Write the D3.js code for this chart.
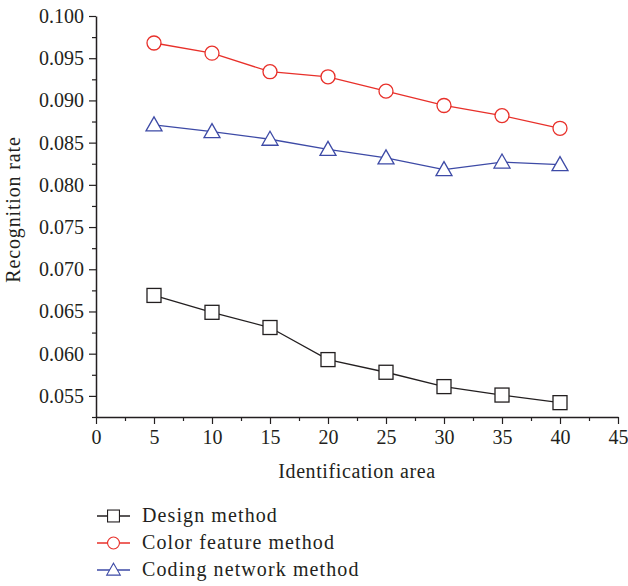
<!DOCTYPE html>
<html>
<head>
<meta charset="utf-8">
<script src="https://cdn.jsdelivr.net/npm/d3@7"></script>
<style>
  body { margin: 0; background: #fff; }
  text { font-family: "Liberation Serif", "DejaVu Serif", serif; fill: #231f20; }
</style>
</head>
<body>
<div id="chart"></div>
<script>
// data
var areas = [5, 10, 15, 20, 25, 30, 35, 40];
var designMethod = [0.0669, 0.0649, 0.0631, 0.0593, 0.0578, 0.0561, 0.0551, 0.0542];
var colorFeature = [0.0968, 0.0956, 0.0934, 0.0928, 0.0911, 0.0894, 0.0882, 0.0867];
var codingNetwork = [0.0871, 0.0863, 0.0854, 0.0842, 0.0832, 0.0818, 0.0827, 0.0824];
var seriesNames = ["Design method", "Color feature method", "Coding network method"];
var xTicks = [0, 5, 10, 15, 20, 25, 30, 35, 40, 45];
var yTicks = [0.055, 0.060, 0.065, 0.070, 0.075, 0.080, 0.085, 0.090, 0.095, 0.100];

var width = 628, height = 586;
var margin = { top: 16, right: 10, bottom: 169, left: 96 };
var w = 618 - margin.left,
    h = height - margin.top - margin.bottom;

var svg = d3.select("#chart")
    .append("svg")
    .attr("width", width)
    .attr("height", height);

var g = svg.append("g")
    .attr("transform", "translate(" + margin.left + "," + margin.top + ")");

var xScale = d3.scaleLinear().domain([0, 45]).range([0, w]);
var yScale = d3.scaleLinear().domain([0.0525, 0.100]).range([h, 0]);

// minor ticks
var xMinor = d3.range(2.5, 45, 5);
var yMinor = d3.range(0.0525, 0.1, 0.005);

g.append("g")
    .attr("transform", "translate(0," + h + ")")
    .call(d3.axisBottom(xScale).tickValues(xMinor).tickSize(4).tickFormat(""))
    .call(a => a.select(".domain").remove());
g.append("g")
    .call(d3.axisLeft(yScale).tickValues(yMinor).tickSize(4).tickFormat(""))
    .call(a => a.select(".domain").remove());

// x axis
g.append("g")
    .attr("transform", "translate(0," + h + ")")
    .call(d3.axisBottom(xScale).tickValues(xTicks).tickSize(7).tickSizeOuter(0).tickPadding(6));

// y axis
g.append("g")
    .call(d3.axisLeft(yScale).tickValues(yTicks).tickSize(7).tickSizeOuter(0).tickPadding(5)
        .tickFormat(d3.format(".3f")));

g.selectAll(".domain").attr("stroke", "#231f20").attr("stroke-width", 1.5);
g.selectAll(".tick line").attr("stroke", "#231f20").attr("stroke-width", 1.2);
g.selectAll(".tick text")
    .style("font-family", "'Liberation Serif', 'DejaVu Serif', serif")
    .style("font-size", "20px")
    .attr("fill", "#231f20");

// axis titles
g.append("text")
    .attr("x", w / 2)
    .attr("y", h + 61)
    .attr("text-anchor", "middle")
    .style("font-size", "20px")
    .style("letter-spacing", "0.6px")
    .text("Identification area");

g.append("text")
    .attr("transform", "translate(-76," + (h / 2 - 7) + ") rotate(-90)")
    .attr("text-anchor", "middle")
    .style("font-size", "20px")
    .style("letter-spacing", "0.85px")
    .text("Recognition rate");

var series = [
    { name: seriesNames[0], values: designMethod, color: "#231f20", shape: "square" },
    { name: seriesNames[1], values: colorFeature, color: "#e8302a", shape: "circle" },
    { name: seriesNames[2], values: codingNetwork, color: "#3d4aa6", shape: "triangle" }
];

var line = d3.line()
    .x((d, i) => xScale(areas[i]))
    .y(d => yScale(d));

function drawMarker(sel, shape, color) {
    if (shape === "square") {
        sel.append("rect")
            .attr("x", -7).attr("y", -7).attr("width", 14).attr("height", 14)
            .attr("fill", "#fff").attr("stroke", color).attr("stroke-width", 1.3);
    } else if (shape === "circle") {
        sel.append("circle")
            .attr("r", 7)
            .attr("fill", "#fff").attr("stroke", color).attr("stroke-width", 1.3);
    } else {
        sel.append("path")
            .attr("d", "M0,-8L8,6L-8,6Z")
            .attr("fill", "#fff").attr("stroke", color).attr("stroke-width", 1.3);
    }
}

series.forEach(function (s) {
    g.append("path")
        .datum(s.values)
        .attr("fill", "none")
        .attr("stroke", s.color)
        .attr("stroke-width", 1.3)
        .attr("d", line);

    g.selectAll(".m-" + s.shape)
        .data(s.values)
        .enter()
        .append("g")
        .attr("class", "m-" + s.shape)
        .attr("transform", (d, i) => "translate(" + xScale(areas[i]) + "," + yScale(d) + ")")
        .each(function () { drawMarker(d3.select(this), s.shape, s.color); });
});

// legend
var legend = svg.selectAll(".legend")
    .data(series)
    .enter()
    .append("g")
    .attr("class", "legend")
    .attr("transform", (d, i) => "translate(97," + (516 + i * 27) + ")");

legend.append("line")
    .attr("x1", 0).attr("x2", 33)
    .attr("stroke", d => d.color)
    .attr("stroke-width", 1.3);

legend.each(function (d) {
    var m = d3.select(this).append("g").attr("transform", "translate(16.5,0) scale(0.85)");
    drawMarker(m, d.shape, d.color);
});

legend.append("text")
    .attr("x", 45)
    .attr("y", 6)
    .style("font-size", "20px")
    .style("letter-spacing", "1.1px")
    .text(d => d.name);
</script>
</body>
</html>
